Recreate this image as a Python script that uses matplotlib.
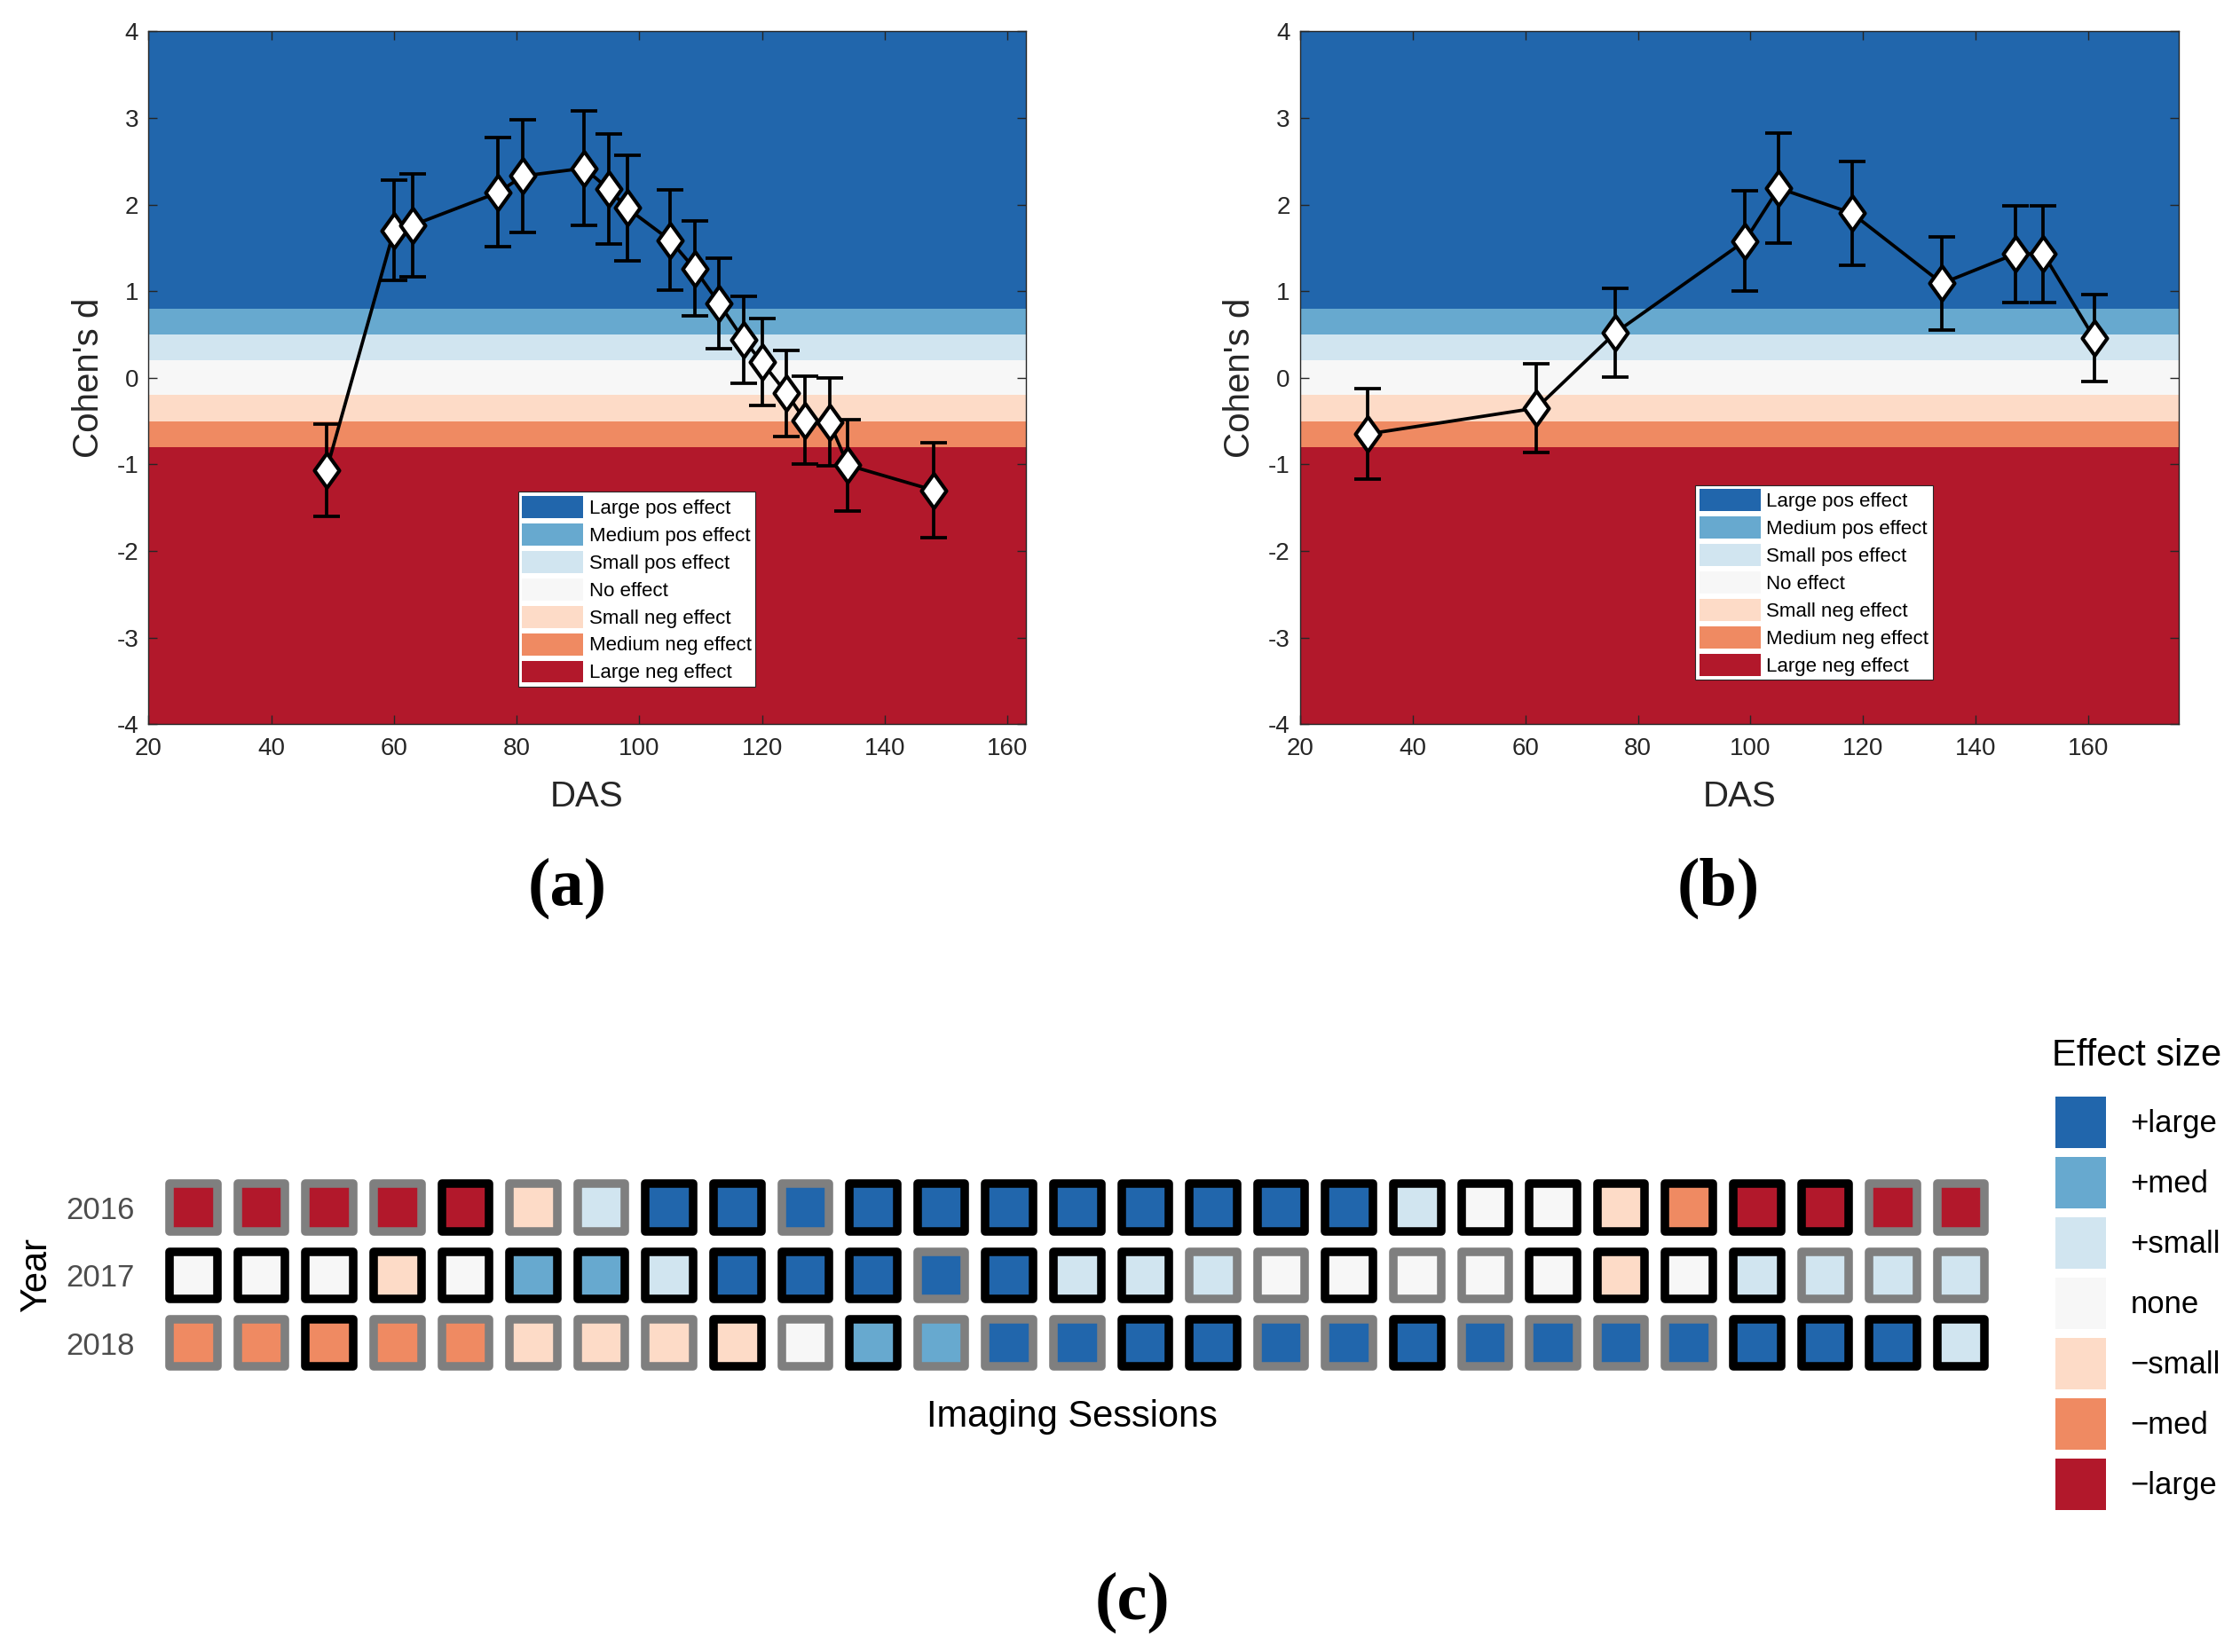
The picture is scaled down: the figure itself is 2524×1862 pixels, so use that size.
import matplotlib
matplotlib.use('Agg')
import matplotlib.pyplot as plt
from matplotlib.path import Path
from matplotlib.patches import Patch

# effect size classes (Cohen's d thresholds) and colours
band_edges = [-4, -0.8, -0.5, -0.2, 0.2, 0.5, 0.8, 4]
band_colors = ['#b2182b', '#ef8a62', '#fddbc7', '#f7f7f7', '#d1e5f0', '#67a9cf', '#2166ac']
band_names = ['Large neg effect', 'Medium neg effect', 'Small neg effect', 'No effect',
              'Small pos effect', 'Medium pos effect', 'Large pos effect']
key_names = ['\u2212large', '\u2212med', '\u2212small', 'none', '+small', '+med', '+large']

# panel (a)
das_a = [49, 60, 63, 77, 81, 91, 95, 98, 105, 109, 113, 117, 120, 124, 127, 131, 134, 148]
d_a = [-1.07, 1.70, 1.76, 2.14, 2.33, 2.42, 2.18, 1.96, 1.59, 1.26, 0.86, 0.44, 0.18,
       -0.18, -0.49, -0.51, -1.01, -1.30]
err_a = [0.53, 0.58, 0.59, 0.63, 0.65, 0.66, 0.64, 0.61, 0.58, 0.55, 0.52, 0.50, 0.50,
         0.50, 0.51, 0.51, 0.53, 0.55]

# panel (b)
das_b = [32, 62, 76, 99, 105, 118, 134, 147, 152, 161]
d_b = [-0.65, -0.35, 0.52, 1.58, 2.19, 1.90, 1.09, 1.43, 1.43, 0.46]
err_b = [0.52, 0.51, 0.51, 0.58, 0.64, 0.60, 0.54, 0.56, 0.56, 0.50]

# panel (c): effect class per session (-3 = large neg ... 3 = large pos), 1 = black border
years = [2016, 2017, 2018]
cls_2016 = [-3, -3, -3, -3, -3, -1, 1, 3, 3, 3, 3, 3, 3, 3, 3, 3, 3, 3, 1, 0, 0, -1, -2, -3, -3, -3, -3]
sig_2016 = [0, 0, 0, 0, 1, 0, 0, 1, 1, 0, 1, 1, 1, 1, 1, 1, 1, 1, 1, 1, 1, 1, 1, 1, 1, 0, 0]
cls_2017 = [0, 0, 0, -1, 0, 2, 2, 1, 3, 3, 3, 3, 3, 1, 1, 1, 0, 0, 0, 0, 0, -1, 0, 1, 1, 1, 1]
sig_2017 = [1, 1, 1, 1, 1, 1, 1, 1, 1, 1, 1, 0, 1, 1, 1, 0, 0, 1, 0, 0, 1, 1, 1, 1, 0, 0, 0]
cls_2018 = [-2, -2, -2, -2, -2, -1, -1, -1, -1, 0, 2, 2, 3, 3, 3, 3, 3, 3, 3, 3, 3, 3, 3, 3, 3, 3, 1]
sig_2018 = [0, 0, 1, 0, 0, 0, 0, 0, 1, 0, 1, 0, 0, 0, 1, 1, 0, 0, 1, 0, 0, 0, 0, 1, 1, 1, 1]

plt.rcParams['font.family'] = ['Liberation Sans', 'DejaVu Sans']
plt.rcParams['axes.unicode_minus'] = False
W, H = 2524, 1862
fig = plt.figure(figsize=(W / 100, H / 100), dpi=100)

diamond = Path([(0, 1), (0.72, 0), (0, -1), (-0.72, 0), (0, 1)],
               [Path.MOVETO, Path.LINETO, Path.LINETO, Path.LINETO, Path.CLOSEPOLY])
ink = '#262626'


def effect_panel(rect, das, d, err, xmax, leg_anchor):
    ax = fig.add_axes(rect)
    for i in range(len(band_colors)):
        ax.axhspan(band_edges[i], band_edges[i + 1], color=band_colors[i], lw=0,
                   label=band_names[i], zorder=0)
    ax.errorbar(das, d, yerr=err, fmt='none', ecolor='black', elinewidth=2.7,
                capsize=11, capthick=2.7, zorder=3)
    ax.plot(das, d, color='black', lw=2.7, marker=diamond, markersize=28,
            markerfacecolor='white', markeredgecolor='black', markeredgewidth=3, zorder=4)
    ax.set_xlim(20, xmax)
    ax.set_ylim(-4, 4)
    ax.set_xticks(range(20, 161, 20))
    ax.set_yticks(range(-4, 5))
    ax.tick_params(direction='in', top=True, right=True, length=7, width=1,
                   colors=ink, labelsize=20)
    ax.tick_params(axis='x', pad=11)
    ax.tick_params(axis='y', pad=8)
    for s in ax.spines.values():
        s.set_color(ink)
        s.set_linewidth(1)
    ax.set_xlabel('DAS', fontsize=29, color=ink, va='center')
    ax.set_ylabel("Cohen's d", fontsize=29, color=ink, va='center')
    ax.xaxis.set_label_coords(0.5, -0.105)
    ax.yaxis.set_label_coords(-0.068, 0.5)
    h, l = ax.get_legend_handles_labels()
    leg = ax.legend(h[::-1], l[::-1], loc='lower left', bbox_to_anchor=leg_anchor,
                    fontsize=16, handlelength=3.1, handleheight=1.35, labelspacing=0.27,
                    handletextpad=0.3, borderpad=0.2, borderaxespad=0,
                    fancybox=False, framealpha=1, edgecolor=ink)
    leg.get_frame().set_linewidth(0.8)
    return ax


effect_panel([167.4 / W, 1 - 816.1 / H, 988.4 / W, 780.7 / H], das_a, d_a, err_a, 163,
             (0.4215, 0.054))
effect_panel([1464.8 / W, 1 - 816.1 / H, 990 / W, 780.7 / H], das_b, d_b, err_b, 176,
             (0.450, 0.064))

# panel (c)
axc = fig.add_axes([179.7 / W, 1 - 1551.65 / H, 2068.2 / W, 228.75 / H])
rows = [(cls_2016, sig_2016), (cls_2017, sig_2017), (cls_2018, sig_2018)]
for yr, (cls, sig) in zip(years, rows):
    xs = list(range(1, len(cls) + 1))
    faces = [band_colors[c + 3] for c in cls]
    edges = ['black' if s else '#7f7f7f' for s in sig]
    axc.scatter(xs, [yr] * len(xs), marker='s', s=38.5 ** 2, c=faces,
                edgecolors=edges, linewidths=6.9)
axc.set_xlim(0.5, 27.5)
axc.set_ylim(2018.5, 2015.5)
axc.set_yticks(years)
axc.set_xticks([])
axc.tick_params(axis='y', length=0, pad=20, labelsize=25, labelcolor='#4d4d4d')
for s in axc.spines.values():
    s.set_visible(False)
axc.set_xlabel('Imaging Sessions', fontsize=30, va='center')
axc.xaxis.set_label_coords(0.497, -0.198)
axc.set_ylabel('Year', fontsize=30, va='center')
axc.yaxis.set_label_coords(-0.067, 0.5)

keys = [Patch(facecolor=band_colors[i], edgecolor='none') for i in range(6, -1, -1)]
fig.text(2311.5 / W, 1 - 1189.6 / H, 'Effect size', fontsize=30, ha='left', va='center')
fig.legend(keys, key_names[::-1], loc='upper left',
           bbox_to_anchor=(2316.4 / W, 1 - 1236 / H), frameon=False,
           fontsize=25, handlelength=1.64, handleheight=2.19, labelspacing=0.29,
           handletextpad=0.78, borderpad=0, borderaxespad=0)

# panel tags
for txt, x, y in [('(a)', 639, 1001), ('(b)', 1936.5, 1001), ('(c)', 1276.5, 1806)]:
    fig.text(x / W, 1 - y / H, txt, fontsize=55, fontweight='bold',
             family=['Liberation Serif', 'DejaVu Serif'], ha='center', va='center')

fig.savefig('out.png', dpi=100, facecolor='white')
